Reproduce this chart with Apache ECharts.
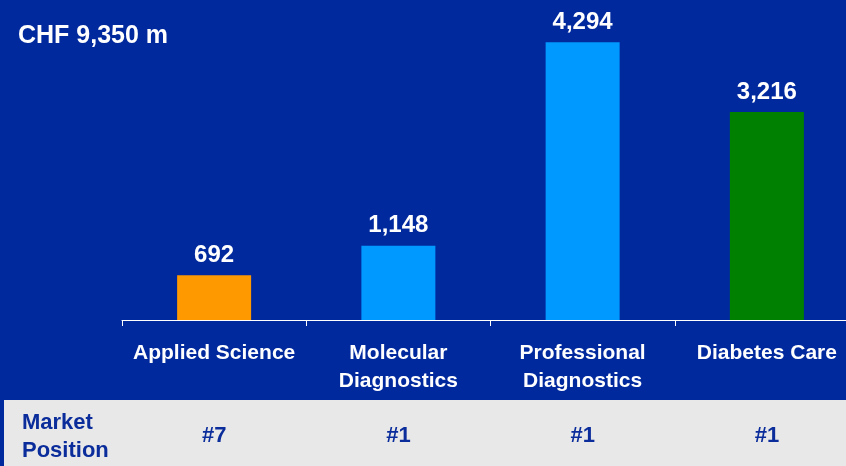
<!DOCTYPE html>
<html>
<head>
<meta charset="utf-8">
<script src="https://cdn.jsdelivr.net/npm/echarts@6/dist/echarts.min.js"></script>
<style>
html,body{margin:0;padding:0;background:#00299E;overflow:hidden;width:846px;height:466px;}
#chart{width:860px;height:466px;}
</style>
</head>
<body>
<div id="chart"></div>
<script>
const categories = ['Applied Science', 'Molecular\nDiagnostics', 'Professional\nDiagnostics', 'Diabetes Care'];
const sales = [692, 1148, 4294, 3216];
const barColors = ['#FF9900', '#0099FF', '#0099FF', '#008000'];
const marketPositions = ['#7', '#1', '#1', '#1'];
const totalLabel = 'CHF 9,350 m';
const rowLabel = 'Market\nPosition';

const FONT = '"Liberation Sans", Arial, sans-serif';
const chart = echarts.init(document.getElementById('chart'), null, {renderer: 'canvas'});
chart.setOption({
  backgroundColor: '#00299E',
  animation: false,
  title: {
    text: totalLabel,
    left: 13,
    top: 16,
    textStyle: {color: '#ffffff', fontFamily: FONT, fontWeight: 'bold', fontSize: 25, lineHeight: 30}
  },
  graphic: [
    {type: 'rect', left: 4, top: 400, shape: {width: 860, height: 66}, style: {fill: '#E8E8E8'}, z: -1},
    {type: 'text', left: 22, top: 409, style: {text: rowLabel, fill: '#0B2D9B', font: 'bold 22px ' + FONT, lineHeight: 28}}
  ],
  grid: {left: 122, width: 737, top: 3, bottom: 146, containLabel: false},
  xAxis: [
    {
      type: 'category',
      data: categories,
      axisLine: {lineStyle: {color: '#ffffff', width: 1}},
      axisTick: {show: true, length: 6, lineStyle: {color: '#ffffff'}},
      axisLabel: {color: '#ffffff', fontFamily: FONT, fontWeight: 'bold', fontSize: 21, lineHeight: 28, margin: 19, interval: 0}
    },
    {
      type: 'category',
      data: marketPositions,
      position: 'bottom',
      axisLine: {show: false},
      axisTick: {show: false},
      axisLabel: {color: '#0B2D9B', fontFamily: FONT, fontWeight: 'bold', fontSize: 22, lineHeight: 22, margin: 105, interval: 0}
    }
  ],
  yAxis: {
    type: 'value', min: 0, max: 4900,
    show: false, splitLine: {show: false}
  },
  series: [{
    type: 'bar',
    xAxisIndex: 0,
    data: sales.map((v, i) => ({value: v, itemStyle: {color: barColors[i]}})),
    barWidth: 74,
    label: {
      show: true, position: 'top', distance: 8,
      color: '#ffffff', fontFamily: FONT, fontWeight: 'bold', fontSize: 24,
      formatter: p => p.value.toLocaleString('en-US')
    }
  }]
});
</script>
</body>
</html>
